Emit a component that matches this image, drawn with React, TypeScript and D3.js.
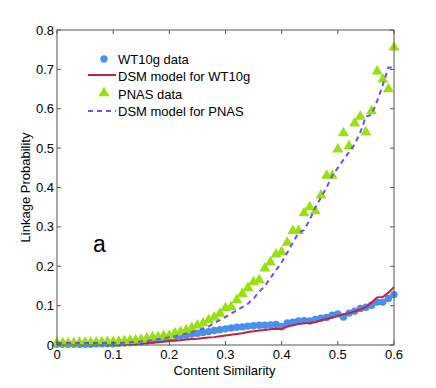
import React from "react";
import * as d3 from "d3";

const xs: number[] = d3.range(0, 61).map((i) => i / 100);

const wt10gData: number[] = [
  0.002, 0.002, 0.002, 0.002, 0.002, 0.002, 0.002, 0.003, 0.003, 0.003,
  0.003, 0.004, 0.005, 0.006, 0.007, 0.008, 0.010, 0.012, 0.014, 0.017,
  0.019, 0.021, 0.023, 0.025, 0.028, 0.030, 0.032, 0.034, 0.037, 0.039,
  0.041, 0.043, 0.045, 0.046, 0.048, 0.049, 0.050, 0.050, 0.051, 0.052,
  0.047, 0.056, 0.058, 0.061, 0.062, 0.061, 0.065, 0.068, 0.070, 0.076,
  0.079, 0.071, 0.081, 0.086, 0.093, 0.096, 0.101, 0.109, 0.109, 0.118,
  0.128,
];

const wt10gModel: number[] = [
  0.001, 0.001, 0.001, 0.001, 0.001, 0.001, 0.001, 0.002, 0.002, 0.002,
  0.002, 0.002, 0.003, 0.003, 0.003, 0.004, 0.005, 0.006, 0.007, 0.008,
  0.010, 0.011, 0.012, 0.014, 0.015, 0.016, 0.018, 0.019, 0.020, 0.022,
  0.024, 0.026, 0.028, 0.030, 0.033, 0.035, 0.037, 0.038, 0.040, 0.041,
  0.040, 0.047, 0.050, 0.053, 0.055, 0.056, 0.058, 0.063, 0.066, 0.070,
  0.074, 0.078, 0.081, 0.085, 0.090, 0.096, 0.108, 0.121, 0.122, 0.133,
  0.147,
];

const pnasData: number[] = [
  0.005, 0.005, 0.005, 0.005, 0.006, 0.006, 0.006, 0.007, 0.007, 0.008,
  0.008, 0.009, 0.010, 0.011, 0.012, 0.014, 0.017, 0.020, 0.020, 0.023,
  0.023, 0.030, 0.033, 0.038, 0.043, 0.050, 0.055, 0.063, 0.070, 0.080,
  0.094, 0.096, 0.114, 0.130, 0.145, 0.160, 0.165, 0.195, 0.210, 0.230,
  0.236, 0.260, 0.290, 0.290, 0.335, 0.350, 0.340, 0.380, 0.430, 0.430,
  0.497, 0.538, 0.505, 0.563, 0.580, 0.540, 0.594, 0.695, 0.675, 0.650,
  0.756,
];

const pnasModel: number[] = [
  0.005, 0.005, 0.005, 0.005, 0.005, 0.005, 0.005, 0.005, 0.005, 0.005,
  0.005, 0.005, 0.006, 0.007, 0.008, 0.009, 0.010, 0.012, 0.015, 0.017,
  0.020, 0.022, 0.025, 0.029, 0.033, 0.037, 0.042, 0.047, 0.056, 0.063,
  0.071, 0.080, 0.088, 0.096, 0.105, 0.118, 0.135, 0.150, 0.170, 0.190,
  0.210, 0.235, 0.260, 0.285, 0.292, 0.318, 0.350, 0.375, 0.400, 0.430,
  0.450, 0.470, 0.490, 0.510, 0.540, 0.580, 0.585, 0.620, 0.660, 0.705,
  0.705,
];

const xTicks: number[] = [0, 0.1, 0.2, 0.3, 0.4, 0.5, 0.6];
const yTicks: number[] = [0, 0.1, 0.2, 0.3, 0.4, 0.5, 0.6, 0.7, 0.8];
const legendLabels: string[] = [
  "WT10g data",
  "DSM model for WT10g",
  "PNAS data",
  "DSM model for PNAS",
];

const W = 436;
const H = 388;
const left = 57;
const right = 394;
const top = 30;
const bottom = 345;

const BLUE = "#4a8ff0";
const RED = "#c8203c";
const GREEN = "#99e011";
const PURPLE = "#7050ee";
const AXIS = "#555";
const FONT = "'Liberation Sans', Arial, Helvetica, sans-serif";

export default function App() {
  const x = d3.scaleLinear().domain([0, 0.6]).range([left, right]);
  const y = d3.scaleLinear().domain([0, 0.8]).range([bottom, top]);
  const line = (vals: number[]) =>
    d3
      .line<number>()
      .x((_, i) => x(xs[i]))
      .y((d) => y(d))(vals) || "";
  const tri = d3.symbol().type(d3.symbolTriangle).size(52)() || "";
  const fmt = (v: number) => (v === 0 ? "0" : d3.format(".1f")(v));

  return (
    <svg
      width={W}
      height={H}
      style={{ position: "absolute", left: 0, top: 0, background: "#fff" }}
      fontFamily={FONT}
    >
      <rect x={0} y={0} width={W} height={H} fill="#fff" />
      {/* data */}
      <g>
        {wt10gData.map((v, i) => (
          <circle key={"b" + i} cx={x(xs[i])} cy={y(v)} r={3.7} fill={BLUE} />
        ))}
      </g>
      <path d={line(wt10gModel)} fill="none" stroke={RED} strokeWidth={2} />
      <g>
        {pnasData.map((v, i) => (
          <path
            key={"t" + i}
            d={tri}
            transform={`translate(${x(xs[i])},${y(v)})`}
            fill={GREEN}
          />
        ))}
      </g>
      <path
        d={line(pnasModel)}
        fill="none"
        stroke={PURPLE}
        strokeWidth={2}
        strokeDasharray="5,4"
      />
      {/* box */}
      <rect
        x={left}
        y={top}
        width={right - left}
        height={bottom - top}
        fill="none"
        stroke={AXIS}
        strokeWidth={1}
      />
      {xTicks.map((t) => (
        <g key={"xt" + t}>
          <line x1={x(t)} x2={x(t)} y1={bottom} y2={bottom - 4} stroke={AXIS} />
          <line x1={x(t)} x2={x(t)} y1={top} y2={top + 4} stroke={AXIS} />
          <text
            x={x(t)}
            y={bottom + 14}
            textAnchor="middle"
            fontSize={13}
            fill="#000"
          >
            {fmt(t)}
          </text>
        </g>
      ))}
      {yTicks.map((t) => (
        <g key={"yt" + t}>
          <line x1={left} x2={left + 4} y1={y(t)} y2={y(t)} stroke={AXIS} />
          <line x1={right} x2={right - 4} y1={y(t)} y2={y(t)} stroke={AXIS} />
          <text
            x={left - 3}
            y={y(t) + 4.5}
            textAnchor="end"
            fontSize={13}
            fill="#000"
          >
            {fmt(t)}
          </text>
        </g>
      ))}
      <text
        x={(left + right) / 2 - 1}
        y={375}
        textAnchor="middle"
        fontSize={13}
        fill="#000"
      >
        Content Similarity
      </text>
      <text
        transform={`translate(30,${(top + bottom) / 2}) rotate(-90)`}
        textAnchor="middle"
        fontSize={13}
        fill="#000"
      >
        Linkage Probability
      </text>
      <text x={93} y={252} fontSize={23} fill="#000">
        a
      </text>
      {/* legend */}
      <g fontSize={13} fill="#000">
        <circle cx={104} cy={59} r={3.7} fill={BLUE} />
        <line x1={88} x2={116} y1={75} y2={75} stroke={RED} strokeWidth={2} />
        <path d={tri} transform="translate(104,93)" fill={GREEN} />
        <line
          x1={88}
          x2={116}
          y1={111}
          y2={111}
          stroke={PURPLE}
          strokeWidth={2}
          strokeDasharray="5,4"
        />
        {legendLabels.map((l, i) => (
          <text key={l} x={118} y={64 + i * 17.3}>
            {l}
          </text>
        ))}
      </g>
    </svg>
  );
}
